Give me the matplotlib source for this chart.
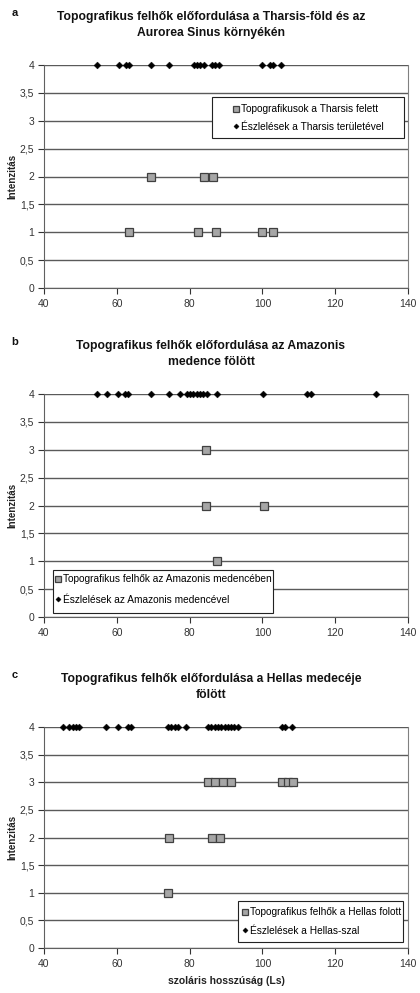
import matplotlib
matplotlib.use("Agg")
import matplotlib.pyplot as plt
from matplotlib.patches import Rectangle
import numpy as np

plt.rcParams['font.family'] = ['Liberation Sans', 'DejaVu Sans']

# ---- data ----
a_obs_x = [54.6, 60.5, 62.4, 63.3, 69.3, 74.3, 81.1, 81.9, 82.9, 84.0, 86.2, 87.1, 88.2,
           100.0, 102.0, 102.9, 105.0]
a_obs_y = [4] * len(a_obs_x)
a_topo_x = [69.4, 84.0, 86.3, 63.4, 82.3, 87.2, 100.0, 103.0]
a_topo_y = [2, 2, 2, 1, 1, 1, 1, 1]

b_obs_x = [54.6, 57.4, 60.4, 62.3, 63.2, 69.4, 74.3, 77.4, 79.2, 80.1, 81.0, 81.9, 82.8,
           83.7, 84.7, 87.4, 100.2, 112.2, 113.3, 131.2]
b_obs_y = [4] * len(b_obs_x)
b_topo_x = [84.4, 84.4, 100.4, 87.4]
b_topo_y = [3, 2, 2, 1]

c_obs_x = [45.1, 47.0, 47.9, 48.8, 49.7, 57.0, 60.2, 63.0, 63.9, 74.1, 75.0, 75.9, 76.8,
           78.9, 85.1, 86.0, 86.9, 87.8, 88.7, 89.6, 90.5, 91.4, 92.3, 93.2, 105.3, 106.2,
           108.2]
c_obs_y = [4] * len(c_obs_x)
c_topo_x = [85.1, 87.1, 89.1, 91.3, 105.3, 107.1, 108.3, 74.3, 86.2, 88.3, 74.1]
c_topo_y = [3, 3, 3, 3, 3, 3, 3, 2, 2, 2, 1]

titles = ["Topografikus felhők előfordulása a Tharsis-föld és az\nAurorea Sinus környékén",
          "Topografikus felhők előfordulása az Amazonis\nmedence fölött",
          "Topografikus felhők előfordulása a Hellas medecéje\nfölött"]
letters = ["a", "b", "c"]
topo_labels = ["Topografikusok a Tharsis felett",
               "Topografikus felhők az Amazonis medencében",
               "Topografikus felhők a Hellas folott"]
obs_labels = ["Észlelések a Tharsis területével",
              "Észlelések az Amazonis medencével",
              "Észlelések a Hellas-szal"]
yticks = [0, 0.5, 1, 1.5, 2, 2.5, 3, 3.5, 4]
ytick_labels = ["0", "0,5", "1", "1,5", "2", "2,5", "3", "3,5", "4"]
xticks = [40, 60, 80, 100, 120, 140]

W, H = 420, 993
fig = plt.figure(figsize=(W / 100, H / 100), dpi=100)

# axes pixel boxes (top, bottom)
boxes = [(65, 288), (394, 617), (727, 948)]
# legend frame in pixels: x0, x1, y0(top), y1(bottom); handle x; rows center y; labelspacing
legend_frames = [(212, 404, 97, 138, 236, 118, 0.7),
                 (53, 273, 570, 613, 58, 589.5, 1.0),
                 (238, 403, 901, 942, 245, 921.5, 0.85)]

data = [(a_obs_x, a_obs_y, a_topo_x, a_topo_y),
        (b_obs_x, b_obs_y, b_topo_x, b_topo_y),
        (c_obs_x, c_obs_y, c_topo_x, c_topo_y)]

left, right = 44, 408
for i in range(3):
    top, bot = boxes[i]
    ax = fig.add_axes([left / W, 1 - bot / H, (right - left) / W, (bot - top) / H])
    ox, oy, tx, ty = data[i]
    ax.set_xlim(40, 140)
    ax.set_ylim(0, 4)
    ax.set_yticks(yticks)
    ax.set_yticklabels(ytick_labels)
    ax.set_xticks(xticks)
    ax.yaxis.grid(True, color='#5a5a5a', lw=1.0)
    ax.set_axisbelow(True)
    ax.spines['top'].set_visible(False)
    ax.spines['right'].set_color('#808080')
    ax.spines['left'].set_color('#606060')
    ax.spines['bottom'].set_color('#606060')
    ax.tick_params(axis='both', labelsize=7.5, colors='#333333', length=4, width=0.8,
                   direction='out', pad=3)
    ax.tick_params(axis='x', pad=4)
    hs = ax.plot(tx, ty, ls='none', marker='s', ms=5.2, mfc='#a6a6a6', mec='#404040',
                 mew=0.9, clip_on=False, zorder=3, label=topo_labels[i])[0]
    ho = ax.plot(ox, oy, ls='none', marker='D', ms=3.5, mfc='black', mec='black',
                 mew=0.3, clip_on=False, zorder=4, label=obs_labels[i])[0]

    fx0, fx1, fy0, fy1, hx, rowc, lsp = legend_frames[i]
    ph = bot - top
    pw = right - left
    rect = Rectangle(((fx0 - left) / pw, (bot - fy1) / ph), (fx1 - fx0) / pw,
                     (fy1 - fy0) / ph, transform=ax.transAxes, facecolor='white',
                     edgecolor='#222222', lw=0.8, clip_on=False, zorder=9)
    ax.add_patch(rect)
    leg = ax.legend(handles=[hs, ho], loc='center left',
                    bbox_to_anchor=((hx - 2 - left) / pw, (bot - rowc) / ph),
                    borderaxespad=0, borderpad=0, fontsize=7.3, frameon=False,
                    handlelength=0.4, handletextpad=0.25, labelspacing=lsp,
                    markerscale=0.75)
    leg.set_zorder(10)
    ax.set_ylabel("Intenzitás", fontsize=7, fontweight='bold', color='#222222')
    ax.yaxis.set_label_coords(-0.074, 0.5)
    if i == 2:
        ax.set_xlabel("szoláris hosszúság (Ls)", fontsize=7.5, fontweight='bold',
                      color='#222222', labelpad=5)
    fig.text(211 / W, 1 - (top - 40) / H, titles[i], ha='center', va='center',
             fontsize=8.75, fontweight='bold', linespacing=1.4, color='#111111')
    fig.text(15 / W, 1 - (top - 52) / H, letters[i], ha='center', va='center',
             fontsize=8, fontweight='bold', color='#111111')
fig.savefig("out.png", dpi=100)
